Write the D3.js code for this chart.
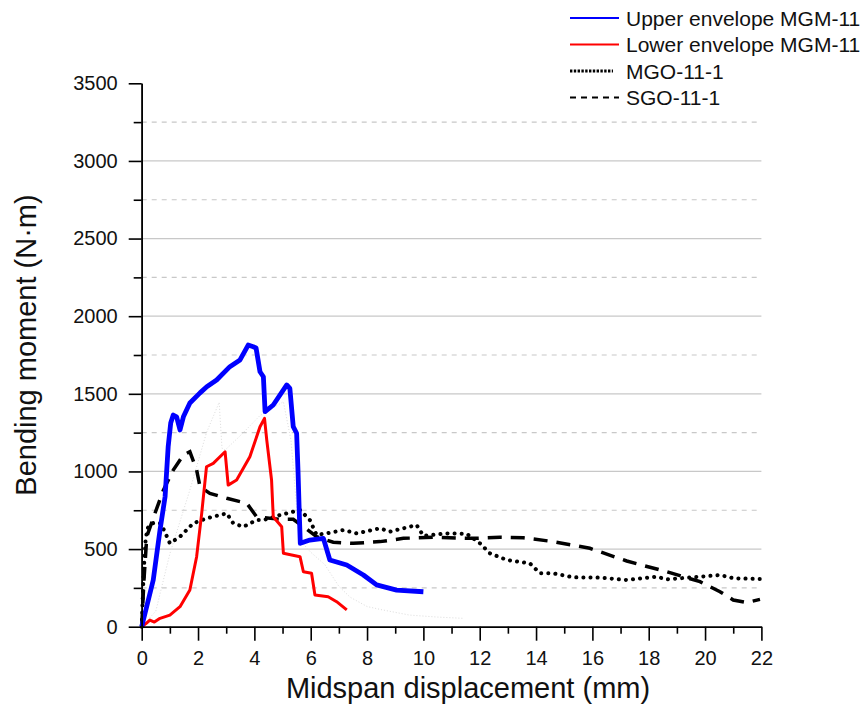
<!DOCTYPE html>
<html>
<head>
<meta charset="utf-8">
<script src="https://cdn.jsdelivr.net/npm/d3@7"></script>
<style>
  body { margin: 0; background: #fff; }
  text { font-family: "Liberation Sans", Arial, sans-serif; fill: #111; }
</style>
</head>
<body>
<script>
// Bending moment vs midspan displacement

// Data: [displacement mm, moment N·m]
let upperEnvelope = [
    [0, 0], [0.06, 43], [0.41, 301], [0.65, 623], [0.83, 837], [0.94, 1159], [1.03, 1312],
    [1.12, 1363], [1.24, 1352], [1.36, 1267], [1.48, 1352], [1.71, 1441], [2.07, 1506],
    [2.31, 1546], [2.66, 1589], [3.13, 1675], [3.49, 1718], [3.78, 1814], [3.96, 1803],
    [4.06, 1795], [4.2, 1642], [4.32, 1610], [4.38, 1385], [4.67, 1428], [5.15, 1557],
    [5.26, 1535], [5.38, 1288], [5.5, 1246], [5.55, 1000], [5.6, 700], [5.63, 537],
    [5.97, 558], [6.45, 569], [6.68, 430], [7.28, 397], [7.87, 333], [8.34, 269],
    [9.05, 236], [10.0, 225]
];
let lowerEnvelope = [
    [0, 0], [0.15, 20], [0.29, 43], [0.45, 30], [0.65, 54], [1.0, 75], [1.36, 129], [1.71, 236],
    [1.95, 451], [2.13, 730], [2.3, 1030], [2.54, 1052], [2.96, 1127], [3.07, 912],
    [3.37, 945], [3.84, 1095], [4.2, 1288], [4.36, 1342], [4.44, 1202], [4.61, 945],
    [4.67, 708], [4.97, 644], [5.03, 473], [5.62, 451], [5.74, 354], [6.03, 344],
    [6.15, 204], [6.62, 193], [6.92, 161], [7.28, 108]
];
let mgo111 = [
    [0, 0], [0.03, 150], [0.06, 300], [0.1, 450], [0.14, 560], [0.2, 630], [0.3, 660],
    [0.45, 670], [0.65, 666], [0.8, 620], [1.0, 537], [1.36, 580], [1.83, 666], [2.31, 698],
    [3.02, 730], [3.25, 666], [3.61, 644], [4.08, 687], [4.32, 687], [4.91, 719], [5.62, 752],
    [5.97, 687], [6.21, 591], [6.68, 605], [7.16, 623], [7.63, 601], [8.46, 634], [8.81, 612],
    [9.52, 644], [9.76, 655], [10.0, 585], [10.83, 601], [11.54, 598], [12.01, 537],
    [12.36, 473], [12.96, 430], [13.78, 408], [14.14, 344], [14.61, 344], [15.32, 318],
    [16.27, 316], [17.22, 301], [18.28, 322], [18.64, 305], [19.82, 322], [20.53, 333],
    [21.0, 312], [21.95, 307]
];
let sgo111 = [
    [0, 0], [0.08, 300], [0.18, 580], [0.47, 730], [0.77, 880], [1.12, 1009], [1.48, 1106],
    [1.71, 1127], [1.95, 1009], [2.07, 902], [2.42, 859], [3.02, 827], [3.73, 795],
    [4.08, 708], [4.91, 692], [5.38, 692], [5.74, 644], [6.21, 580], [6.8, 544], [7.51, 537],
    [8.46, 548], [9.29, 569], [10.35, 576], [11.77, 569], [12.72, 576], [13.55, 573],
    [14.61, 548], [15.91, 505], [17.22, 423], [18.64, 354], [19.82, 290], [20.53, 225],
    [21.0, 172], [21.48, 155], [21.95, 176]
];
// faint individual specimen trace behind the envelopes
let specimenTrace = [
    [0, 0], [0.5, 100], [1.0, 470], [1.71, 880], [2.3, 1250], [2.75, 1445], [2.85, 1150],
    [2.96, 1138], [3.5, 1230], [4.2, 1360], [5.03, 1449], [5.3, 1200], [5.6, 560], [6.0, 480],
    [6.5, 400], [7.0, 260], [7.4, 190], [8.0, 130], [8.5, 110], [9.5, 75], [10.5, 62], [11.4, 54]
];

let xTicks = [0, 2, 4, 6, 8, 10, 12, 14, 16, 18, 20, 22];
let xMinorTicks = d3.range(1, 22, 2);
let yTicks = [0, 500, 1000, 1500, 2000, 2500, 3000, 3500];
let yMinorTicks = [250, 750, 1250, 1750, 2250, 2750, 3250];

let legendNames = ["Upper envelope MGM-11", "Lower envelope MGM-11", "MGO-11-1", "SGO-11-1"];

// SVG params
let svgWidth = 867;
let svgHeight = 722;
let margin = { top: 83.3, right: 105.6, bottom: 95.3, left: 141.7 };
let width = svgWidth - margin.left - margin.right;
let height = svgHeight - margin.top - margin.bottom;

let svg = d3.select("body")
    .append("svg")
    .attr("width", svgWidth)
    .attr("height", svgHeight);

let chartGroup = svg.append("g")
    .attr("transform", `translate(${margin.left}, ${margin.top})`);

let xScale = d3.scaleLinear().domain([0, 22]).range([0, width]);
let yScale = d3.scaleLinear().domain([0, 3500]).range([height, 0]);

// grid lines: solid on majors, dashed on minors
chartGroup.selectAll(".gridMajor")
    .data(yTicks.filter(d => d > 0 && d < 3500))
    .enter()
    .append("line")
    .attr("x1", 0).attr("x2", width)
    .attr("y1", d => yScale(d)).attr("y2", d => yScale(d))
    .attr("stroke", "#c8c8c8")
    .attr("stroke-width", 1.2);

chartGroup.selectAll(".gridMinor")
    .data(yMinorTicks)
    .enter()
    .append("line")
    .attr("x1", 0).attr("x2", width)
    .attr("y1", d => yScale(d)).attr("y2", d => yScale(d))
    .attr("stroke", "#c8c8c8")
    .attr("stroke-width", 1.2)
    .attr("stroke-dasharray", "5,5");

let line = d3.line()
    .x(d => xScale(d[0]))
    .y(d => yScale(d[1]));

chartGroup.append("path")
    .datum(specimenTrace)
    .attr("d", line)
    .attr("fill", "none")
    .attr("stroke", "#dcdcdc")
    .attr("stroke-width", 1)
    .attr("stroke-dasharray", "1,2");

chartGroup.append("path")
    .datum(sgo111)
    .attr("d", line)
    .attr("fill", "none")
    .attr("stroke", "#000")
    .attr("stroke-width", 3.5)
    .attr("stroke-dasharray", "14,9");

chartGroup.append("path")
    .datum(mgo111)
    .attr("d", line)
    .attr("fill", "none")
    .attr("stroke", "#000")
    .attr("stroke-width", 4)
    .attr("stroke-linecap", "round")
    .attr("stroke-dasharray", "0.1,7");

chartGroup.append("path")
    .datum(lowerEnvelope)
    .attr("d", line)
    .attr("fill", "none")
    .attr("stroke", "#ff0000")
    .attr("stroke-width", 3)
    .attr("stroke-linejoin", "round");

chartGroup.append("path")
    .datum(upperEnvelope)
    .attr("d", line)
    .attr("fill", "none")
    .attr("stroke", "#0000ff")
    .attr("stroke-width", 4.8)
    .attr("stroke-linejoin", "round");

// axes
let xAxis = d3.axisBottom(xScale).tickValues(xTicks).tickSize(14).tickSizeOuter(0).tickPadding(10)
    .tickFormat(d3.format("d"));
let xMinor = d3.axisBottom(xScale).tickValues(xMinorTicks).tickSize(7).tickSizeOuter(0).tickFormat("");
let yAxis = d3.axisLeft(yScale).tickValues(yTicks).tickSize(13).tickSizeOuter(0).tickPadding(11)
    .tickFormat(d3.format("d"));
let yMinor = d3.axisLeft(yScale).tickValues(yMinorTicks).tickSize(8).tickSizeOuter(0).tickFormat("");

[[xAxis, true], [xMinor, true], [yAxis, false], [yMinor, false]].forEach(([ax, isX]) => {
    let g = chartGroup.append("g")
        .attr("transform", isX ? `translate(0, ${height})` : null)
        .call(ax);
    g.selectAll("path, line").attr("stroke", "#000").attr("stroke-width", 1.6);
    g.selectAll("text")
        .style("font-family", "'Liberation Sans', Arial, sans-serif")
        .style("font-size", "20px")
        .attr("fill", "#111");
});

// axis titles
svg.append("text")
    .attr("x", 468)
    .attr("y", 698)
    .attr("text-anchor", "middle")
    .style("font-size", "29px")
    .text("Midspan displacement (mm)");

svg.append("text")
    .attr("transform", "translate(36, 345) rotate(-90)")
    .attr("text-anchor", "middle")
    .style("font-size", "29px")
    .text("Bending moment (N·m)");

// legend
let legendStyles = [
    { stroke: "#0000ff", width: 2.2, dash: null, len: 49 },
    { stroke: "#ff0000", width: 2.2, dash: null, len: 49 },
    { stroke: "#000", width: 2.8, dash: "2.4,1.4", len: 43 },
    { stroke: "#000", width: 2.2, dash: "6,5", len: 49 }
];
let legend = svg.append("g").attr("transform", "translate(570, 18)");
legendNames.forEach((name, i) => {
    let s = legendStyles[i];
    let row = legend.append("g").attr("transform", `translate(0, ${i * 26.5})`);
    row.append("line")
        .attr("x1", 0).attr("x2", s.len)
        .attr("y1", 0).attr("y2", 0)
        .attr("stroke", s.stroke)
        .attr("stroke-width", s.width)
        .attr("stroke-dasharray", s.dash);
    row.append("text")
        .attr("x", 56)
        .attr("y", 0)
        .attr("dy", "0.36em")
        .style("font-size", "21px")
        .text(name);
});
</script>
</body>
</html>
